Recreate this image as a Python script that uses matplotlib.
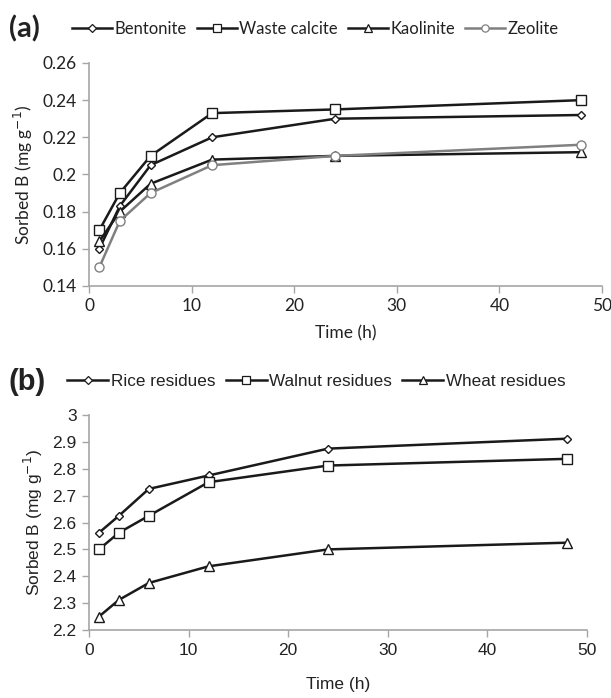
import matplotlib
matplotlib.use("Agg")
import matplotlib.pyplot as plt
from matplotlib.lines import Line2D

time_h = [1, 3, 6, 12, 24, 48]

# Panel (a)
bentonite = [0.160, 0.183, 0.205, 0.220, 0.230, 0.232]
waste_calcite = [0.170, 0.190, 0.210, 0.233, 0.235, 0.240]
kaolinite = [0.164, 0.180, 0.195, 0.208, 0.210, 0.212]
zeolite = [0.150, 0.175, 0.190, 0.205, 0.210, 0.216]
labels_a = ["Bentonite", "Waste calcite", "Kaolinite", "Zeolite"]
yticks_a = [0.14, 0.16, 0.18, 0.2, 0.22, 0.24, 0.26]
ytick_labels_a = ["0.14", "0.16", "0.18", "0.2", "0.22", "0.24", "0.26"]

# Panel (b)
rice = [2.562, 2.625, 2.725, 2.775, 2.875, 2.912]
walnut = [2.500, 2.562, 2.625, 2.750, 2.812, 2.837]
wheat = [2.250, 2.312, 2.375, 2.437, 2.500, 2.525]
labels_b = ["Rice residues", "Walnut residues", "Wheat residues"]
yticks_b = [2.2, 2.3, 2.4, 2.5, 2.6, 2.7, 2.8, 2.9, 3.0]
ytick_labels_b = ["2.2", "2.3", "2.4", "2.5", "2.6", "2.7", "2.8", "2.9", "3"]
xticks = [0, 10, 20, 30, 40, 50]

fig = plt.figure(figsize=(6.11, 6.98), dpi=100)
axa = fig.add_axes([0.1457, 0.5903, 0.8396, 0.3195])
axb = fig.add_axes([0.1457, 0.0974, 0.8150, 0.3080])

dark = "#1a1a1a"
grey_line = "#808080"
spine_c = "#a6a6a6"
txt = "#222222"

font_a = ["Lato", "DejaVu Sans"]
font_b = ["Liberation Sans", "DejaVu Sans"]

series_a = [
    (bentonite, "D", dark, 4.5),
    (waste_calcite, "s", dark, 6.5),
    (kaolinite, "^", dark, 6.5),
    (zeolite, "o", grey_line, 6.5),
]
handles_a = []
for (vals, m, c, ms), lab in zip(series_a, labels_a):
    axa.plot(time_h, vals, color=c, lw=1.8, marker=m, ms=ms, mfc="white",
             mec=c, mew=1.0, label=lab, clip_on=False, zorder=3)
    handles_a.append(Line2D([], [], color=c, lw=1.8, marker=m, ms=ms * 0.8,
                            mfc="white", mec=c, mew=0.9))

series_b = [
    (rice, "D", dark, 4.5),
    (walnut, "s", dark, 6.5),
    (wheat, "^", dark, 6.5),
]
handles_b = []
for (vals, m, c, ms), lab in zip(series_b, labels_b):
    axb.plot(time_h, vals, color=c, lw=1.8, marker=m, ms=ms, mfc="white",
             mec=c, mew=1.0, label=lab, clip_on=False, zorder=3)
    handles_b.append(Line2D([], [], color=c, lw=1.8, marker=m, ms=ms * 0.8,
                            mfc="white", mec=c, mew=0.9))

for ax, yt, ytl, ylim, fam, xpad in [
    (axa, yticks_a, ytick_labels_a, (0.14, 0.26), font_a, 8),
    (axb, yticks_b, ytick_labels_b, (2.2, 3.0), font_b, 14),
]:
    ax.set_xlim(0, 50)
    ax.set_ylim(*ylim)
    ax.set_xticks(xticks)
    ax.set_xticklabels([str(x) for x in xticks], family=fam, fontsize=12.5, color=txt)
    ax.set_yticks(yt)
    ax.set_yticklabels(ytl, family=fam, fontsize=12.5, color=txt)
    for s in ["top", "right"]:
        ax.spines[s].set_visible(False)
    for s in ["left", "bottom"]:
        ax.spines[s].set_color(spine_c)
        ax.spines[s].set_linewidth(1.2)
    ax.tick_params(axis="both", direction="out", length=5, width=1.0, color=spine_c, pad=4)
    ax.set_xlabel("Time (h)", family=fam, fontsize=12.5, color=txt, labelpad=xpad)
    ax.set_ylabel("Sorbed B (mg g$^{-1}$)", family=fam, fontsize=12.5, color=txt, labelpad=5)

fig.text(0.014, 0.959, "(a)", family=font_a, fontsize=21, fontweight="bold",
         va="center", ha="left", color=txt)
fig.text(0.014, 0.453, "(b)", family=font_b, fontsize=21, fontweight="bold",
         va="center", ha="left", color=txt)

fig.legend(handles_a, labels_a, loc="center left", bbox_to_anchor=(0.118, 0.959),
           ncol=4, frameon=False, handlelength=2.4, handletextpad=0.15,
           columnspacing=0.6, prop={"family": font_a, "size": 12},
           labelcolor=txt, borderaxespad=0, borderpad=0)
fig.legend(handles_b, labels_b, loc="center left", bbox_to_anchor=(0.11, 0.453),
           ncol=3, frameon=False, handlelength=2.4, handletextpad=0.15,
           columnspacing=0.6, prop={"family": font_b, "size": 12.3},
           labelcolor=txt, borderaxespad=0, borderpad=0)

fig.savefig("out.png", dpi=100)
